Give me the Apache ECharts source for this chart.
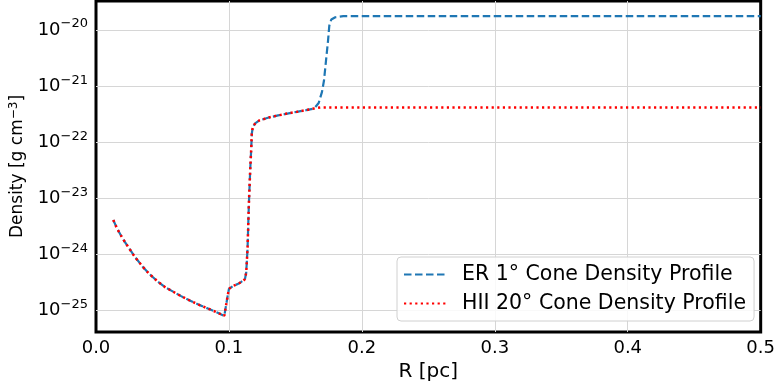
<!DOCTYPE html>
<html>
<head>
<meta charset="utf-8">
<script src="https://cdn.jsdelivr.net/npm/echarts@6/dist/echarts.min.js"></script>
<style>
  html, body { margin: 0; padding: 0; background: #fff; }
  #chart { width: 778px; height: 387px; }
</style>
</head>
<body>
<div id="chart"></div>
<script>
// common inner profile (both cones overlap here)
const rShared = [0.013, 0.016, 0.020, 0.025, 0.029, 0.035, 0.040, 0.046, 0.052, 0.058,
  0.064, 0.070, 0.078, 0.085, 0.092, 0.0965, 0.098, 0.099, 0.100, 0.103,
  0.107, 0.109, 0.112, 0.113, 0.114, 0.115, 0.116, 0.1168, 0.1172, 0.118,
  0.120, 0.123, 0.130, 0.137, 0.144, 0.151, 0.158, 0.164];
const rhoShared = [4.07e-24, 2.82e-24, 1.91e-24, 1.26e-24, 9.1e-25, 6.0e-25, 4.47e-25, 3.31e-25, 2.57e-25, 2.14e-25,
  1.78e-25, 1.51e-25, 1.23e-25, 1.05e-25, 8.9e-26, 7.9e-26, 8.3e-26, 1.78e-25, 2.4e-25, 2.7e-25,
  2.95e-25, 3.16e-25, 3.55e-25, 4.7e-25, 1.26e-24, 7.9e-24, 3.2e-23, 7.9e-23, 1.41e-22, 1.9e-22,
  2.19e-22, 2.45e-22, 2.75e-22, 3.0e-22, 3.24e-22, 3.47e-22, 3.72e-22, 3.98e-22];

// ER 1 deg cone outer part
const erTailR = [0.1675, 0.170, 0.1715, 0.173, 0.1745, 0.1755, 0.177, 0.180, 0.186, 0.5];
const erTailRho = [5.0e-22, 7.9e-22, 1.26e-21, 2.82e-21, 6.3e-21, 1.2e-20, 1.55e-20, 1.7e-20, 1.78e-20, 1.78e-20];

// HII 20 deg cone outer part
const hiiTailR = [0.166, 0.169, 0.5];
const hiiTailRho = [4.07e-22, 4.17e-22, 4.17e-22];

const xTicks = [0.0, 0.1, 0.2, 0.3, 0.4, 0.5];
// y axis range in decades (log10 of density)
const yMinExp = -25.39;
const yMaxExp = -19.48;

// the y axis is drawn in log10 space, so densities go through log10 here
const toPairs = (xs, ys) => xs.map((x, i) => [x, Math.log10(ys[i])]);
const erData = toPairs(rShared.concat(erTailR), rhoShared.concat(erTailRho));
const hiiData = toPairs(rShared.concat(hiiTailR), rhoShared.concat(hiiTailRho));

const font = "DejaVu Sans";
const chart = echarts.init(document.getElementById("chart"));

chart.setOption({
  animation: false,
  textStyle: { fontFamily: font },
  grid: {
    left: 94, right: 14, top: 1, bottom: 55,
    show: true, borderColor: "#000", borderWidth: 3, backgroundColor: "transparent",
  },
  legend: {
    orient: "vertical",
    left: 397, top: 257,
    padding: [7, 8, 7, 6],
    itemGap: 8,
    itemWidth: 42, itemHeight: 14,
    itemStyle: { opacity: 0 },
    backgroundColor: "rgba(255,255,255,0.85)",
    borderColor: "#d0d0d0", borderWidth: 1, borderRadius: 4,
    textStyle: { fontFamily: font, fontSize: 20.5, color: "#000", padding: [0, 0, 0, 11] },
    data: ["ER 1° Cone Density Profile", "HII 20° Cone Density Profile"],
  },
  xAxis: {
    type: "value",
    min: 0, max: 0.5, interval: 0.1,
    name: "R [pc]",
    nameLocation: "middle",
    nameGap: 30,
    nameTextStyle: { fontFamily: font, fontSize: 20, color: "#000" },
    axisLine: { show: false },
    axisTick: { show: false },
    axisLabel: {
      fontFamily: font, fontSize: 18, color: "#000", margin: 7,
      formatter: (v) => (xTicks.some((t) => Math.abs(t - v) < 1e-9) ? v.toFixed(1) : ""),
    },
    splitLine: { show: true, showMinLine: false, showMaxLine: false, lineStyle: { color: "#d6d6d6", width: 1 } },
  },
  yAxis: {
    type: "value",
    min: yMinExp, max: yMaxExp,
    splitNumber: 6,
    name: "Density [g cm{sup|−3}]",
    nameLocation: "middle",
    nameGap: 68,
    nameTextStyle: {
      fontFamily: font, fontSize: 17, color: "#000",
      rich: { sup: { fontFamily: font, fontSize: 12, color: "#000", padding: [0, 0, 8, 0] } },
    },
    axisLine: { show: false },
    axisTick: { show: false },
    axisLabel: {
      fontFamily: font, fontSize: 18, color: "#000", margin: 8,
      formatter: (v) => {
        const k = Math.round(v);
        if (Math.abs(v - k) > 1e-6) return "";
        return "10{sup|−" + Math.abs(k) + "}";
      },
      rich: { sup: { fontFamily: font, fontSize: 13, color: "#000", padding: [0, 0, 12, 0] } },
    },
    splitLine: { show: true, showMinLine: false, showMaxLine: false, lineStyle: { color: "#d6d6d6", width: 1 } },
  },
  series: [
    {
      name: "ER 1° Cone Density Profile",
      type: "line",
      data: erData,
      showSymbol: false,
      symbol: "none",
      lineStyle: { color: "#1f77b4", width: 2.2, type: [7.5, 3.5] },
      itemStyle: { color: "#1f77b4" },
      z: 2,
    },
    {
      name: "HII 20° Cone Density Profile",
      type: "line",
      data: hiiData,
      showSymbol: false,
      symbol: "none",
      lineStyle: { color: "#ff0000", width: 2.5, type: [2.2, 3.4] },
      itemStyle: { color: "#ff0000" },
      z: 3,
    },
  ],
});

window.addEventListener("resize", () => {
  chart.resize();
});
</script>
</body>
</html>
